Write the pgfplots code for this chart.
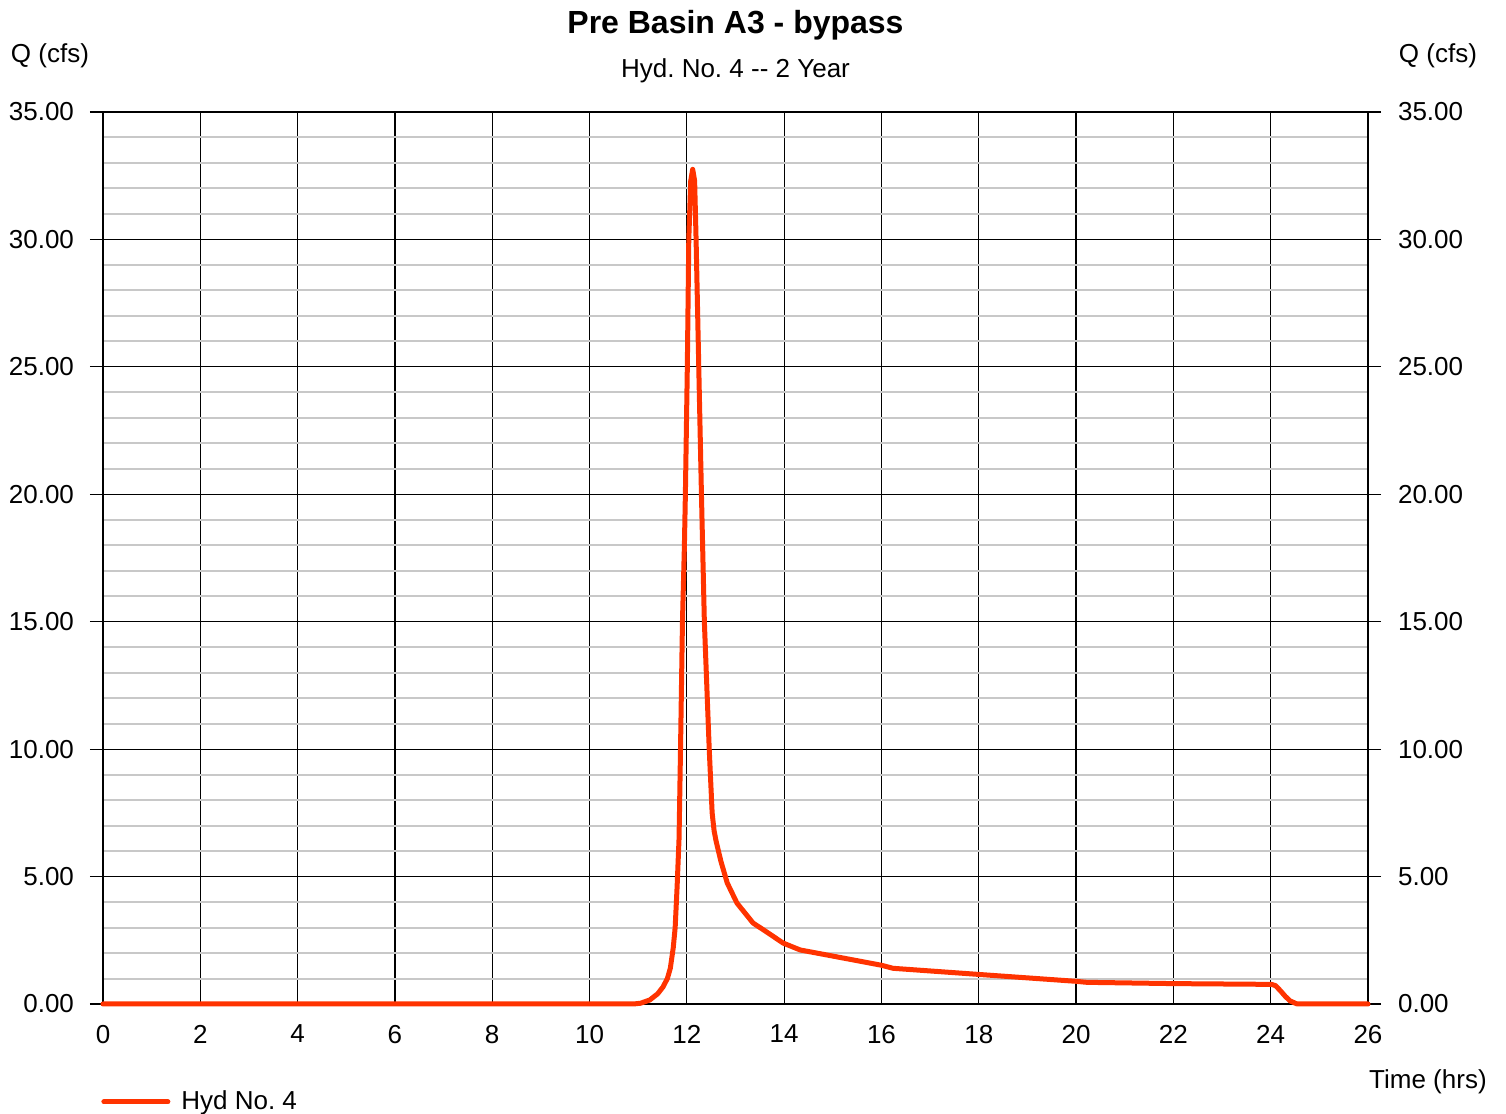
\documentclass[border=0pt]{standalone}
\usepackage{pgfplots}
\pgfplotsset{compat=1.18}
\usepackage{fontspec}
\setmainfont{Liberation Sans}
\frenchspacing
\definecolor{curve}{RGB}{255,51,0}
\definecolor{minorgrid}{RGB}{200,200,200}
\begin{document}
\begin{tikzpicture}
\begin{axis}[
  name=ax,
  scale only axis,
  width=632.5pt, height=446pt,
  xmin=0, xmax=26, ymin=0, ymax=35,
  xtick={0,2,...,26},
  ytick={0,5,...,35},
  minor y tick num=4,
  grid=both,
  major grid style={black, line width=0.6pt},
  minor grid style={minorgrid, line width=1pt},
  axis line style={black, line width=0.6pt},
  ytick pos=both,
  yticklabel pos=left,
  tick align=outside,
  major tick length=6.5pt,
  minor tick length=0pt,
  ytick style={black, line width=0.6pt},
  xtick style={draw=none},
  xticklabel style={font=\fontsize{13}{15}\selectfont, yshift=-0.5pt},
  yticklabel style={font=\fontsize{13}{15}\selectfont, xshift=-4.5pt},
  /pgf/number format/assume math mode=true,
  y tick label style={/pgf/number format/.cd, fixed, fixed zerofill, precision=2},
  legend style={at={(-0.0016,-0.1098)}, anchor=west, draw=none, fill=none, inner sep=0pt, font=\fontsize{13}{15}\selectfont},
  legend image code/.code={\draw[#1, line width=2.5pt] (0pt,0pt) -- (32pt,0pt);},
  clip=false,
]
\addplot[curve, line width=2.5pt, line join=round, line cap=round] coordinates {
(0,0) (10.9,0) (11.05,0.03) (11.24,0.16) (11.4,0.4) (11.51,0.67) (11.6,1.0)
(11.66,1.4) (11.72,2.2) (11.76,3.0) (11.8,4.6) (11.84,6.5) (11.87,10) (11.91,15)
(11.95,18) (11.97,20) (12.01,25) (12.04,30) (12.08,32.3) (12.12,32.75) (12.16,32.3)
(12.19,30) (12.245,25) (12.30,20) (12.36,15) (12.46,10) (12.52,7.5) (12.56,6.8)
(12.6,6.4) (12.7,5.6) (12.83,4.75) (13.03,3.96) (13.36,3.18) (13.7,2.75) (13.98,2.39)
(14.33,2.12) (15,1.88) (16.0,1.52) (16.24,1.40) (18,1.16) (20,0.89) (20.22,0.85)
(22,0.80) (24.02,0.77) (24.1,0.72) (24.2,0.52) (24.3,0.3) (24.4,0.12) (24.53,0.01)
(24.6,0) (26,0)
};
\addlegendentry{\hspace{3.5pt}Hyd No. 4}
\node[font=\bfseries\fontsize{16}{18}\selectfont] at (axis description cs:0.5,1.0975) {Pre Basin A3 - bypass};
\node[font=\fontsize{13}{15}\selectfont] at (axis description cs:0.5,1.0459) {Hyd. No. 4 -{}- 2 Year};
\node[font=\fontsize{13}{15}\selectfont] at (axis description cs:-0.0419,1.0627) {Q (cfs)};
\node[font=\fontsize{13}{15}\selectfont] at (axis description cs:1.0553,1.0627) {Q (cfs)};
\node[font=\fontsize{13}{15}\selectfont] at (axis description cs:1.0474,-0.0875) {Time (hrs)};
\pgfplotsinvokeforeach{0,5,...,35}{
  \node[anchor=west, font=\fontsize{13}{15}\selectfont, xshift=11.5pt] at (axis cs:26,#1) {\pgfmathprintnumber[fixed, fixed zerofill, precision=2]{#1}};
}
\end{axis}
\pgfresetboundingbox
\path ([shift={(-51.5pt,-55pt)}]ax.south west) rectangle ([shift={(701.5pt,502pt)}]ax.south west);
\end{tikzpicture}
\end{document}
